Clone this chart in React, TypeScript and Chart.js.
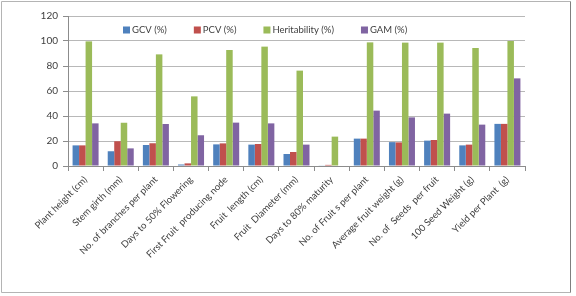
import React, { useEffect, useRef } from "react";
import { Chart, registerables } from "chart.js";

Chart.register(...registerables);

const categories = [
  "Plant height (cm)",
  "Stem girth (mm)",
  "No. of branches per plant",
  "Days to 50% Flowering",
  "First Fruit  producing node",
  "Fruit  length (cm)",
  "Fruit  Diameter (mm)",
  "Days to 80% maturity",
  "No. of Fruit s per plant",
  "Average fruit weight (g)",
  "No. of  Seeds  per fruit",
  "100 Seed Weight (g)",
  "Yield per Plant  (g)",
];

const seriesNames = ["GCV (%)", "PCV (%)", "Heritability (%)", "GAM (%)"];
const gcv = [16.5, 11.8, 16.8, 1.2, 17.3, 17.1, 9.6, 0.3, 21.9, 19.1, 20.3, 16.5, 33.7];
const pcv = [16.5, 19.8, 18.2, 2.1, 18.1, 17.6, 11.2, 0.9, 21.9, 18.9, 20.8, 17.1, 33.7];
const heritability = [99.7, 34.6, 89.3, 55.7, 92.8, 95.5, 76.3, 23.5, 98.9, 98.7, 98.7, 94.4, 100];
const gam = [34.1, 14.1, 33.6, 24.6, 34.7, 34.1, 17.1, 0, 44.3, 38.9, 41.9, 33.1, 70.1];
const colors = ["#4F81BD", "#C0504D", "#9BBB59", "#8064A2"];

const FONT = "Lato, 'Open Sans', sans-serif";
const TEXT = "#404040";

const framePlugin = {
  id: "frame",
  beforeDraw(chart: any) {
    const ctx = chart.ctx;
    ctx.save();
    ctx.fillStyle = "#ffffff";
    ctx.fillRect(0, 0, chart.width, chart.height);
    ctx.lineWidth = 1;
    ctx.strokeStyle = "#b4b4b4";
    ctx.beginPath();
    ctx.moveTo(1.5, 292.5);
    ctx.lineTo(1.5, 1.5);
    ctx.lineTo(570.5, 1.5);
    ctx.moveTo(1.5, 292.5);
    ctx.lineTo(570.5, 292.5);
    ctx.stroke();
    ctx.strokeStyle = "#7f7f7f";
    ctx.beginPath();
    ctx.moveTo(570.5, 1.5);
    ctx.lineTo(570.5, 292.5);
    ctx.stroke();
    ctx.restore();
  },
};

const legendPlugin = {
  id: "insideLegend",
  afterDraw(chart: any) {
    const ctx = chart.ctx;
    const area = chart.chartArea;
    ctx.save();
    ctx.font = `9.5px ${FONT}`;
    ctx.textBaseline = "middle";
    ctx.textAlign = "left";
    let x = area.left + 55;
    const y = area.top + 14;
    chart.data.datasets.forEach((ds: any) => {
      ctx.fillStyle = ds.backgroundColor;
      ctx.fillRect(x, y - 3.5, 7, 7);
      ctx.fillStyle = TEXT;
      ctx.fillText(ds.label, x + 9, y);
      x += 9 + ctx.measureText(ds.label).width + 27;
    });
    ctx.restore();
  },
};

export default function App() {
  const ref = useRef<HTMLCanvasElement | null>(null);

  useEffect(() => {
    document.body.style.margin = "0";
    const values = [gcv, pcv, heritability, gam];
    const chart = new Chart(ref.current as HTMLCanvasElement, {
      type: "bar",
      data: {
        labels: categories,
        datasets: seriesNames.map((name, i) => ({
          label: name,
          data: values[i],
          backgroundColor: colors[i],
          borderWidth: 0,
          barPercentage: 1,
          categoryPercentage: 0.74,
        })),
      },
      options: {
        animation: false,
        responsive: false,
        devicePixelRatio: 1,
        layout: { padding: { top: 16, right: 51, left: 0, bottom: 0 } },
        plugins: { legend: { display: false }, tooltip: { enabled: false } },
        scales: {
          x: {
            afterFit(scale: any) {
              scale.height = 130;
            },
            grid: {
              display: true,
              drawOnChartArea: false,
              drawTicks: true,
              tickLength: 5,
              tickColor: "#8c8c8c",
              offset: true,
            },
            border: { color: "#8c8c8c", width: 1 },
            ticks: {
              autoSkip: false,
              minRotation: 45,
              maxRotation: 45,
              padding: 3,
              color: TEXT,
              font: { family: FONT, size: 9.5 },
            },
          },
          y: {
            min: 0,
            max: 120,
            afterFit(scale: any) {
              scale.width = 68;
            },
            ticks: {
              stepSize: 20,
              padding: 5,
              color: TEXT,
              font: { family: FONT, size: 10 },
            },
            grid: {
              color: "#b8b8b8",
              tickColor: "#8c8c8c",
              tickLength: 5,
            },
            border: { color: "#8c8c8c", width: 1 },
          },
        },
      },
      plugins: [framePlugin, legendPlugin],
    });
    return () => chart.destroy();
  }, []);

  return <canvas ref={ref} width={576} height={296} style={{ display: "block" }} />;
}
